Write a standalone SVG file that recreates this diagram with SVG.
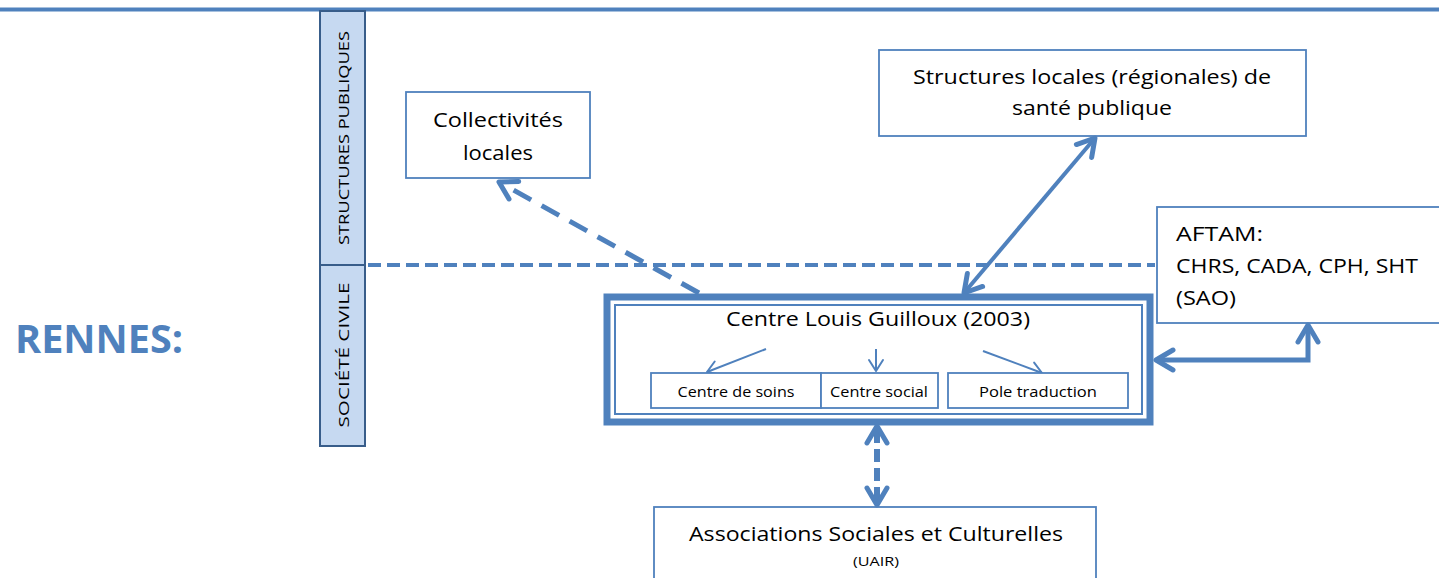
<svg xmlns="http://www.w3.org/2000/svg" width="1439" height="578" viewBox="0 0 1439 578">
<style>
text{font-family:"Open Sans","Noto Sans","Liberation Sans",sans-serif;fill:#000}
.box{fill:#fff;stroke:#4f81bd;stroke-width:1.8}
.main{font-size:20px}
.sub{font-size:14.5px}
.lane{font-size:15px}
.ln{fill:none;stroke:#4f81bd}
</style>
<defs>
<marker id="ah" markerUnits="userSpaceOnUse" viewBox="-22 -13 26 26" markerWidth="26" markerHeight="26" refX="0" refY="0" orient="auto-start-reverse">
<path d="M-17,-10 L0,0 L-17,10" fill="none" stroke="#4f81bd" stroke-width="5" stroke-linecap="round" stroke-linejoin="round"/>
</marker>
<marker id="ahs" markerUnits="userSpaceOnUse" viewBox="-14 -9 16 18" markerWidth="16" markerHeight="18" refX="0" refY="0" orient="auto">
<path d="M-11,-7 L0,0 L-11,7" fill="none" stroke="#4f81bd" stroke-width="2" stroke-linecap="round" stroke-linejoin="round"/>
</marker>
</defs>
<rect width="1439" height="578" fill="#fff"/>
<line x1="0" y1="9.5" x2="1439" y2="9.5" stroke="#4f81bd" stroke-width="4"/>

<g id="lanes">
<rect x="320" y="11" width="45" height="435" fill="#c6d9f1" stroke="#385d8a" stroke-width="2"/>
<line x1="320" y1="265" x2="365" y2="265" stroke="#385d8a" stroke-width="2"/>
<text class="lane" transform="translate(349,138) rotate(-90)" text-anchor="middle" textLength="214" lengthAdjust="spacingAndGlyphs">STRUCTURES PUBLIQUES</text>
<text class="lane" transform="translate(349,355) rotate(-90)" text-anchor="middle" textLength="145" lengthAdjust="spacingAndGlyphs">SOCIÉTÉ CIVILE</text>
</g>

<g id="title">
<text x="15" y="353" font-size="40" font-weight="bold" style="fill:#4f81bd" textLength="168" lengthAdjust="spacingAndGlyphs">RENNES:</text>
</g>

<g id="collectivites">
<rect class="box" x="406" y="92" width="184" height="86"/>
<text class="main" x="498" y="127" text-anchor="middle" textLength="130" lengthAdjust="spacingAndGlyphs">Collectivités</text>
<text class="main" x="498" y="160" text-anchor="middle" textLength="70" lengthAdjust="spacingAndGlyphs">locales</text>
</g>

<g id="structures">
<rect class="box" x="879" y="50" width="427" height="86"/>
<text class="main" x="1092" y="84" text-anchor="middle" textLength="358" lengthAdjust="spacingAndGlyphs">Structures locales (régionales) de</text>
<text class="main" x="1092" y="115" text-anchor="middle" textLength="160" lengthAdjust="spacingAndGlyphs">santé publique</text>
</g>

<g id="aftam">
<rect class="box" x="1157" y="207" width="290" height="116"/>
<text class="main" x="1176" y="241" textLength="87" lengthAdjust="spacingAndGlyphs">AFTAM:</text>
<text class="main" x="1176" y="273" textLength="242" lengthAdjust="spacingAndGlyphs">CHRS, CADA, CPH, SHT</text>
<text class="main" x="1176" y="305" textLength="60" lengthAdjust="spacingAndGlyphs">(SAO)</text>
</g>

<g id="associations">
<rect class="box" x="654" y="507" width="442" height="80"/>
<text class="main" x="876" y="541" text-anchor="middle" textLength="374" lengthAdjust="spacingAndGlyphs">Associations Sociales et Culturelles</text>
<text x="876" y="566" font-size="12" text-anchor="middle" textLength="46" lengthAdjust="spacingAndGlyphs">(UAIR)</text>
</g>

<g id="connectors">
<line class="ln" x1="368" y1="265" x2="1155" y2="265" stroke-width="4" stroke-dasharray="13,6"/>
<line class="ln" x1="699" y1="293" x2="499" y2="182" stroke-width="5" stroke-dasharray="20,12" marker-end="url(#ah)"/>
<line class="ln" x1="964" y1="293" x2="1095" y2="138" stroke-width="4" marker-start="url(#ah)" marker-end="url(#ah)"/>
<polyline class="ln" points="1156,360 1308,360 1308,325" stroke-width="5" stroke-linejoin="miter" marker-start="url(#ah)" marker-end="url(#ah)"/>
<line class="ln" x1="877" y1="426" x2="877" y2="505" stroke-width="6" stroke-dasharray="13,6" stroke-dashoffset="-4" marker-start="url(#ah)" marker-end="url(#ah)"/>
</g>

<g id="centre">
<rect x="607" y="297" width="543" height="125" fill="#fff" stroke="#4f81bd" stroke-width="7"/>
<rect x="615" y="305" width="527" height="109" fill="none" stroke="#4f81bd" stroke-width="2"/>
<text class="main" x="878" y="326" text-anchor="middle" textLength="304" lengthAdjust="spacingAndGlyphs">Centre Louis Guilloux (2003)</text>
<line class="ln" x1="766" y1="349" x2="707" y2="372" stroke-width="2" marker-end="url(#ahs)"/>
<line class="ln" x1="876" y1="349" x2="876" y2="371" stroke-width="2" marker-end="url(#ahs)"/>
<line class="ln" x1="983" y1="351" x2="1042" y2="373" stroke-width="2" marker-end="url(#ahs)"/>
</g>

<g id="soins">
<rect class="box" x="651" y="373" width="170" height="35"/>
<text class="sub" x="736" y="397" text-anchor="middle" textLength="117" lengthAdjust="spacingAndGlyphs">Centre de soins</text>
</g>
<g id="social">
<rect class="box" x="821" y="373" width="117" height="35"/>
<text class="sub" x="879" y="397" text-anchor="middle" textLength="98" lengthAdjust="spacingAndGlyphs">Centre social</text>
</g>
<g id="traduction">
<rect class="box" x="948" y="373" width="180" height="35"/>
<text class="sub" x="1038" y="397" text-anchor="middle" textLength="118" lengthAdjust="spacingAndGlyphs">Pole traduction</text>
</g>
</svg>
